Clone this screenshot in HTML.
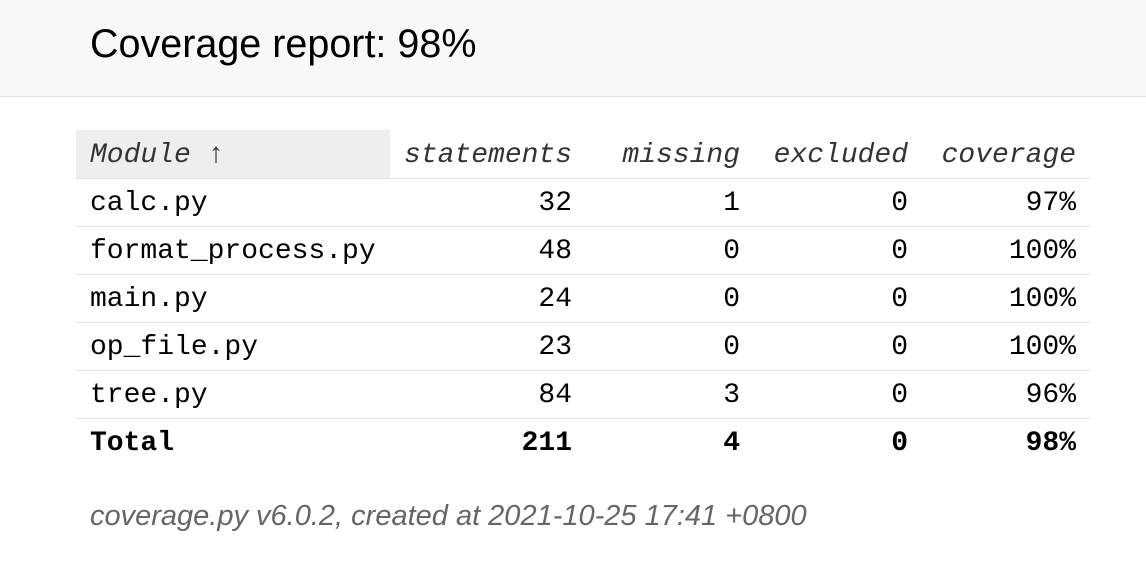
<!DOCTYPE html>
<html><head><meta charset="utf-8">
<style>
body{margin:0;width:1146px;height:564px;background:#fff;font-family:"Liberation Sans",sans-serif;overflow:hidden;position:relative}
#header{position:absolute;left:0;top:0;width:1146px;height:96px;background:#f8f8f8;border-bottom:1px solid #e4e4e4}
#header h1{position:absolute;left:90px;top:21px;margin:0;font-weight:normal;font-size:39.5px;color:#000;line-height:46px}
table{position:absolute;left:76px;top:130px;border-collapse:collapse;font-family:"Liberation Mono",monospace;font-size:28px}
td,th{height:48px;padding:3px 14px 0 14px;box-sizing:border-box;border-bottom:1px solid #e2e2e2;text-align:right;white-space:nowrap}
th{font-weight:normal;font-style:italic;color:#333;border-bottom:1px solid #e2e2e2}
th.name,td.name{text-align:left}
th.name{background:#eee;width:314px}
td.c1,th.c1{width:183px}
td.c2,th.c2{width:168px}
td.c3,th.c3{width:168px}
td.c4,th.c4{width:168px}
tr.total td{font-weight:bold;border-bottom:none}
#footer{position:absolute;left:90px;top:500px;font-style:italic;font-size:29px;color:#666}
</style></head><body>
<div id="header"><h1>Coverage report: 98%</h1></div>
<table>
<tr><th class="name">Module ↑</th><th class="c1">statements</th><th class="c2">missing</th><th class="c3">excluded</th><th class="c4">coverage</th></tr>
<tr><td class="name">calc.py</td><td>32</td><td>1</td><td>0</td><td>97%</td></tr>
<tr><td class="name">format_process.py</td><td>48</td><td>0</td><td>0</td><td>100%</td></tr>
<tr><td class="name">main.py</td><td>24</td><td>0</td><td>0</td><td>100%</td></tr>
<tr><td class="name">op_file.py</td><td>23</td><td>0</td><td>0</td><td>100%</td></tr>
<tr><td class="name">tree.py</td><td>84</td><td>3</td><td>0</td><td>96%</td></tr>
<tr class="total"><td class="name">Total</td><td>211</td><td>4</td><td>0</td><td>98%</td></tr>
</table>
<div id="footer">coverage.py v6.0.2, created at 2021-10-25 17:41 +0800</div>
</body></html>
